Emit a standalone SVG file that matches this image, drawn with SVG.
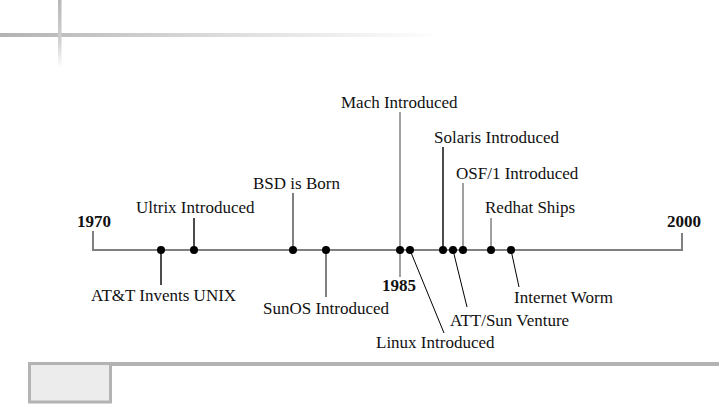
<svg xmlns="http://www.w3.org/2000/svg" width="719" height="404" viewBox="0 0 719 404">
<defs>
<linearGradient id="gh" x1="0" y1="0" x2="1" y2="0">
<stop offset="0" stop-color="#b3b3b3"/>
<stop offset="0.5" stop-color="#dcdcdc"/>
<stop offset="1" stop-color="#ffffff"/>
</linearGradient>
<linearGradient id="gv" x1="0" y1="0" x2="0" y2="1">
<stop offset="0" stop-color="#b8b8b8"/>
<stop offset="0.6" stop-color="#d0d0d0"/>
<stop offset="1" stop-color="#ffffff"/>
</linearGradient>
<style>
text{font-family:"Liberation Serif","Times New Roman",serif;font-size:17px;fill:#111}
.yr{font-weight:bold;font-size:17px}
.dot{fill:#000}
.g{stroke:#808080;stroke-width:2;fill:none}
.lg{stroke:#a0a0a0;stroke-width:2;fill:none}
.k{stroke:#111;stroke-width:1.5;fill:none}
.t{stroke:#000;stroke-width:1;fill:none}
</style>
</defs>
<rect x="0" y="33" width="442" height="4" fill="url(#gh)"/>
<rect x="58" y="0" width="3.5" height="68" fill="url(#gv)"/>
<rect x="28" y="362" width="691" height="4" fill="#b3b3b3"/>
<rect x="29.5" y="363.5" width="81" height="38.5" fill="#ececec" stroke="#b3b3b3" stroke-width="3"/>
<g id="connectors">
<path class="g" d="M93,231 V250 H682 V233"/>
<line class="k" x1="194" y1="218" x2="194" y2="250"/>
<line class="g" x1="293" y1="193" x2="293" y2="250"/>
<line class="lg" x1="400" y1="112" x2="400" y2="277"/>
<line class="k" x1="443" y1="147" x2="443" y2="250"/>
<line class="lg" x1="463" y1="183" x2="463" y2="250"/>
<line class="lg" x1="491" y1="218" x2="491" y2="250"/>
<line class="k" x1="161" y1="250" x2="161" y2="285"/>
<line class="g" x1="326" y1="250" x2="326" y2="297"/>
<line class="t" x1="410" y1="250" x2="444" y2="333"/>
<line class="t" x1="453" y1="250" x2="467" y2="307"/>
<line class="t" x1="511" y1="250" x2="519" y2="287"/>
</g>
<g id="dots">
<circle class="dot" cx="161" cy="250" r="4"/>
<circle class="dot" cx="194" cy="250" r="4"/>
<circle class="dot" cx="293" cy="250" r="4"/>
<circle class="dot" cx="326" cy="250" r="4"/>
<circle class="dot" cx="400" cy="250" r="4"/>
<circle class="dot" cx="410" cy="250" r="4"/>
<circle class="dot" cx="443" cy="250" r="4"/>
<circle class="dot" cx="453" cy="250" r="4"/>
<circle class="dot" cx="463" cy="250" r="4"/>
<circle class="dot" cx="491" cy="250" r="4"/>
<circle class="dot" cx="511" cy="250" r="4"/>
</g>
<g id="y1970"><text class="yr" x="77" y="227">1970</text></g>
<g id="y1985"><text class="yr" x="382" y="291">1985</text></g>
<g id="y2000"><text class="yr" x="667" y="227">2000</text></g>
<g id="ultrix"><text x="136" y="213">Ultrix Introduced</text></g>
<g id="bsd"><text x="253" y="189">BSD is Born</text></g>
<g id="mach"><text x="341" y="108">Mach Introduced</text></g>
<g id="solaris"><text x="434" y="143">Solaris Introduced</text></g>
<g id="osf"><text x="456" y="179">OSF/1 Introduced</text></g>
<g id="redhat"><text x="485" y="213">Redhat Ships</text></g>
<g id="att"><text x="91" y="301">AT&amp;T Invents UNIX</text></g>
<g id="sunos"><text x="263" y="314">SunOS Introduced</text></g>
<g id="linux"><text x="376" y="348">Linux Introduced</text></g>
<g id="attsun"><text x="450" y="326">ATT/Sun Venture</text></g>
<g id="worm"><text x="514" y="303">Internet Worm</text></g>
</svg>
